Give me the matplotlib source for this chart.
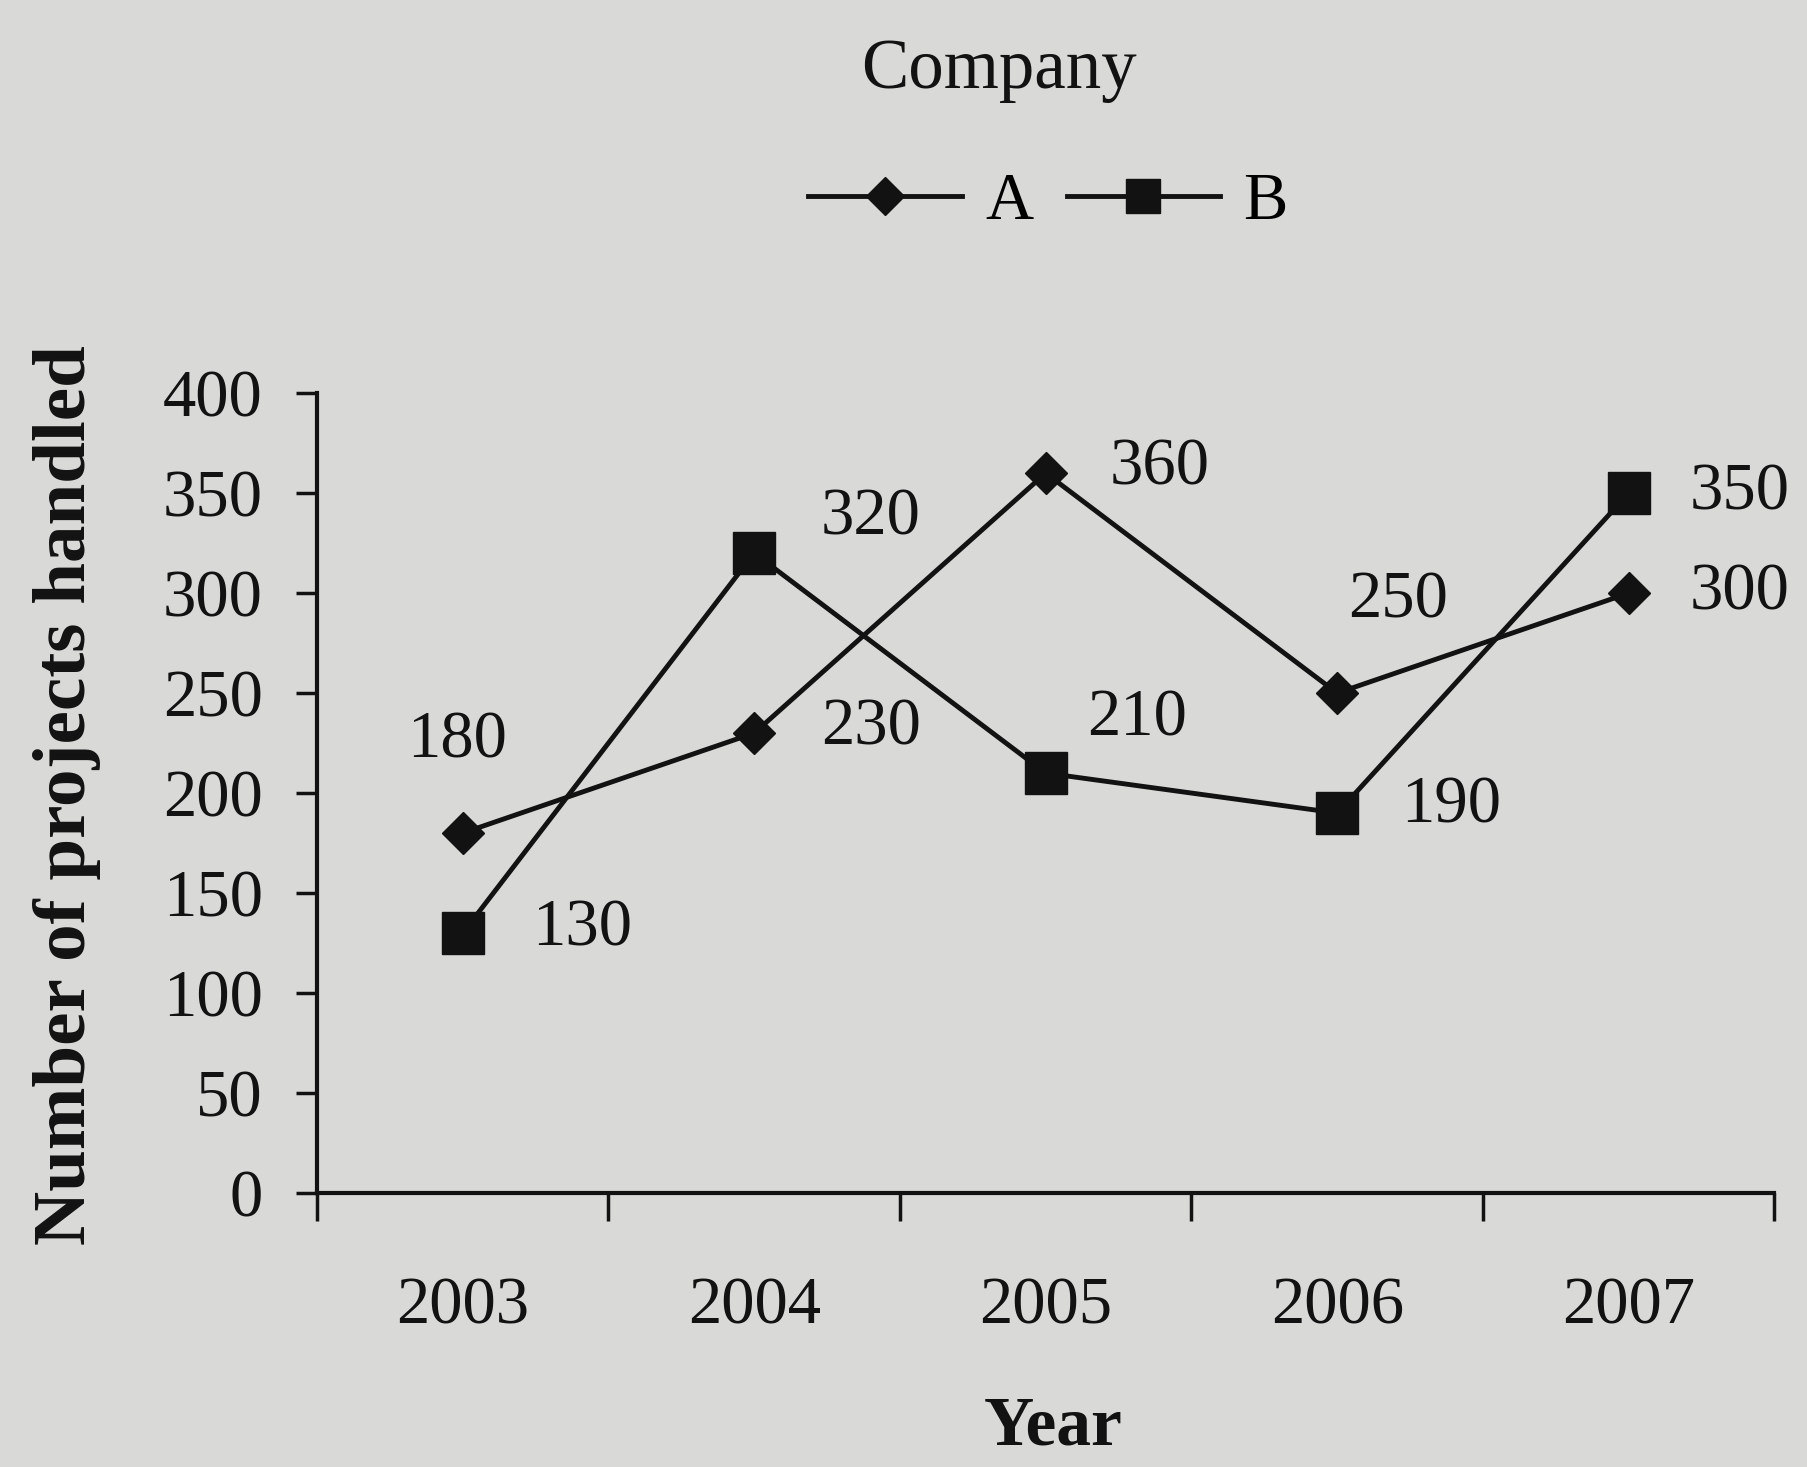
import matplotlib.pyplot as plt
from matplotlib.lines import Line2D

years = ['2003', '2004', '2005', '2006', '2007']
company_a = [180, 230, 360, 250, 300]
company_b = [130, 320, 210, 190, 350]
y_ticks = [0, 50, 100, 150, 200, 250, 300, 350, 400]

# label offsets in points (dx, dy) relative to each marker
offsets_a = [(-4, 66), (84, 4), (82, 4), (44, 66), (80, 0)]
offsets_b = [(86, 3), (84, 25), (66, 39), (82, 5), (80, 0)]

bg = '#d9d9d7'
ink = '#121212'
plt.rcParams['font.family'] = ['Liberation Serif', 'DejaVu Serif']

fig = plt.figure(figsize=(18.07, 14.67), dpi=100, facecolor=bg)
ax = fig.add_axes([0.1754, 0.1868, 0.8066, 0.5452])
ax.set_facecolor(bg)

x = list(range(len(years)))
ax.plot(x, company_a, color=ink, lw=3.5, marker='D', ms=21, mfc=ink, mec=ink, zorder=3)
ax.plot(x, company_b, color=ink, lw=3.5, marker='s', ms=30, mfc=ink, mec=ink, zorder=3)

for xi, v, off in zip(x, company_a, offsets_a):
    ax.annotate(str(v), (xi, v), xytext=off, textcoords='offset points',
                ha='center', va='center', fontsize=48, color=ink)
for xi, v, off in zip(x, company_b, offsets_b):
    ax.annotate(str(v), (xi, v), xytext=off, textcoords='offset points',
                ha='center', va='center', fontsize=48, color=ink)

ax.set_xlim(-0.5, len(years) - 0.5)
ax.set_ylim(0, 400)
ax.set_yticks(y_ticks)
ax.set_yticklabels([str(t) for t in y_ticks], fontsize=48, color=ink)
# category axis: ticks sit between the years
ax.set_xticks([i - 0.5 for i in range(len(years) + 1)])
ax.set_xticklabels([])
ax.set_xticks(x, minor=True)
ax.set_xticklabels(years, minor=True, fontsize=48, color=ink)
ax.tick_params(axis='x', which='minor', length=0, pad=60)
ax.tick_params(axis='x', which='major', length=20, width=2.5, color=ink)
ax.tick_params(axis='y', length=15, width=2.5, color=ink, pad=24)

for s in ['top', 'right']:
    ax.spines[s].set_visible(False)
for s in ['left', 'bottom']:
    ax.spines[s].set_linewidth(3)
    ax.spines[s].set_color(ink)

fig.text(0.037, 0.458, 'Number of projects handled', fontsize=54, fontweight='bold',
         color=ink, rotation=90, ha='center', va='center')
fig.text(0.583, 0.027, 'Year', fontsize=50, fontweight='bold', color=ink,
         ha='center', va='center')

fig.text(0.553, 0.952, 'Company', fontsize=51, color=ink, ha='center', va='center')
handles = [Line2D([], [], color=ink, lw=3.5, marker='D', ms=19, mfc=ink, mec=ink),
           Line2D([], [], color=ink, lw=3.5, marker='s', ms=24, mfc=ink, mec=ink)]
fig.legend(handles, ['A', 'B'], loc='center', bbox_to_anchor=(0.58, 0.862),
           ncol=2, frameon=False, fontsize=48, handlelength=2.3,
           handletextpad=0.35, columnspacing=0.5)

fig.savefig('out.png', dpi=100, facecolor=bg)
